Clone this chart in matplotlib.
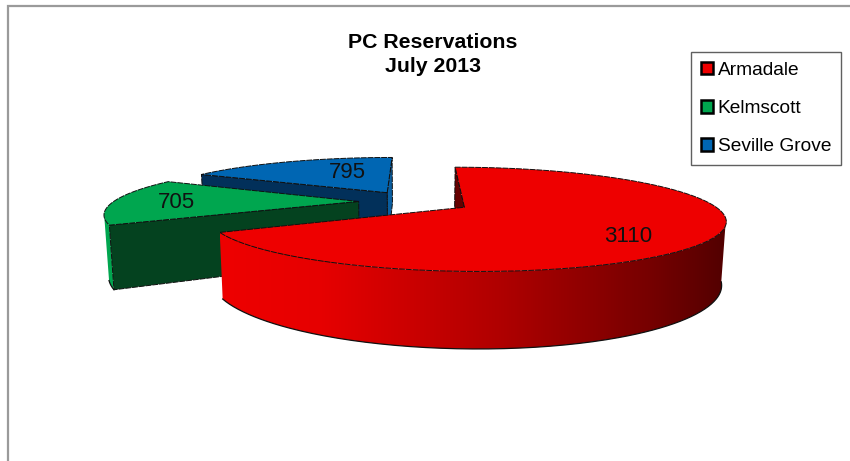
import numpy as np
import matplotlib
matplotlib.use("Agg")
import matplotlib.pyplot as plt
from matplotlib.patches import Polygon, Patch
from matplotlib.colors import LinearSegmentedColormap

# ---- data ----
categories = ["Armadale", "Kelmscott", "Seville Grove"]
values = [3110, 705, 795]
title_lines = ["PC Reservations", "July 2013"]

# ---- style / geometry ----
top_colors = ["#EE0000", "#00A64F", "#0066B3"]
radial_colors = ["#660000", "#04421F", "#02305A"]
label_px = [(628, 236), (176, 202), (347, 172)]
CX, CY, A, B, P = 415.0, 201.5, 245.0, 46.7, 0.225
DEPTH, SHRINK, EXPLODE = 58.0, 0.985, 0.23
START = 0.0

plt.rcParams["font.family"] = ["Liberation Sans", "DejaVu Sans"]
fig = plt.figure(figsize=(8.5, 4.61), dpi=100)
ax = fig.add_axes([0, 0, 1, 1])
ax.set_xlim(0, 850)
ax.set_ylim(461, 0)
ax.axis("off")


def proj(X, Y, bottom=False):
    w = 1 + P * Y
    sx = CX + A * X / w
    sy = CY - B * Y / w
    if bottom:
        sx = CX + (sx - CX) * SHRINK
        sy = sy + DEPTH / w
    return np.column_stack([sx, sy]) if np.ndim(X) else np.array([sx, sy])


def direction(deg):
    r = np.radians(deg)
    return np.sin(r), np.cos(r)


angles = np.cumsum([0] + values) / sum(values) * 360.0 + START
spans = list(zip(angles[:-1], angles[1:]))

red_grad = LinearSegmentedColormap.from_list(
    "r", [(0.0, "#EE0000"), (0.2, "#E60000"), (0.55, "#B00000"), (0.85, "#760000"), (1.0, "#520000")])
green_side = "#00A64F"
blue_side = "#0A5EA0"
z_order = {2: 2, 1: 3, 0: 4}


def draw_slice(i, radial_faces, arc_range, gradient=None, arc_color=None):
    a0, a1 = spans[i]
    mid = (a0 + a1) / 2
    dx, dy = direction(mid)
    ox, oy = EXPLODE * dx, EXPLODE * dy
    z = z_order[i]

    def rim(deg):
        ux, uy = direction(deg)
        return ox + ux, oy + uy

    # outer wall
    if arc_range is not None:
        t = np.linspace(arc_range[0], arc_range[1], 200)
        xs, ys = rim(t)
        top_edge = proj(xs, ys)
        bot_edge = proj(xs, ys, True)
        outline = np.vstack([top_edge, bot_edge[::-1]])
        wall = Polygon(outline, closed=True, fc=arc_color or "none", ec="none", zorder=z)
        ax.add_patch(wall)
        if gradient is not None:
            x0, x1 = outline[:, 0].min(), outline[:, 0].max()
            y0, y1 = outline[:, 1].min(), outline[:, 1].max()
            im = ax.imshow(np.linspace(0, 1, 512)[None, :], cmap=gradient, aspect="auto",
                           extent=(x0, x1, y1, y0), zorder=z, interpolation="bilinear")
            im.set_clip_path(wall)
        ax.plot(*bot_edge.T, color="#101010", lw=0.9, zorder=z + 0.1)
    # radial faces
    for deg, col in radial_faces:
        xe, ye = rim(deg)
        q = [proj(ox, oy), proj(xe, ye), proj(xe, ye, True), proj(ox, oy, True)]
        ax.add_patch(Polygon(q, closed=True, fc=col, ec="#101010", lw=0.7, ls=(0, (6, 1)),
                             zorder=z + 0.2))
    # top
    tt = np.linspace(a0, a1, 200)
    xs, ys = rim(tt)
    pts = np.vstack([proj(ox, oy), proj(xs, ys)])
    ax.add_patch(Polygon(pts, closed=True, fc=top_colors[i], ec="#101010", lw=0.7, ls=(0, (6, 1)),
                         zorder=z + 0.3))


draw_slice(2, [(spans[2][1], blue_side), (spans[2][0], radial_colors[2])], None)
draw_slice(1, [(spans[1][0], radial_colors[1])], (spans[1][0], spans[1][0] + 8), arc_color=green_side)
draw_slice(0, [(spans[0][0], radial_colors[0])], (103, spans[0][1]), gradient=red_grad)

ax.set_xlim(0, 850)
ax.set_ylim(461, 0)

for (px, py), v in zip(label_px, values):
    ax.text(px, py, str(v), ha="center", va="center", fontsize=16, color="#111111", zorder=10)

ax.text(433, 43, title_lines[0], ha="center", va="center", fontsize=15.3,
        fontweight="bold", color="black", zorder=10)
ax.text(433, 67, title_lines[1], ha="center", va="center", fontsize=15.3,
        fontweight="bold", color="black", zorder=10)

# chart frame
ax.plot([8, 8, 850], [461, 6, 6], color="#9A9A9A", lw=1.6, zorder=1, solid_joinstyle="miter")

handles = [Patch(fc=c, ec="black", lw=1.8) for c in top_colors]
leg = ax.legend(handles, categories, loc="upper left", bbox_to_anchor=(691 / 850, 1 - 52 / 461),
                borderaxespad=0, fontsize=13.8, frameon=True, fancybox=False, edgecolor="#606060",
                handlelength=0.62, handleheight=0.62, handletextpad=0.25, labelspacing=1.1,
                borderpad=0.52, framealpha=1)
leg.get_frame().set_linewidth(1.0)
leg.set_zorder(11)

fig.savefig("out.png", dpi=100)
